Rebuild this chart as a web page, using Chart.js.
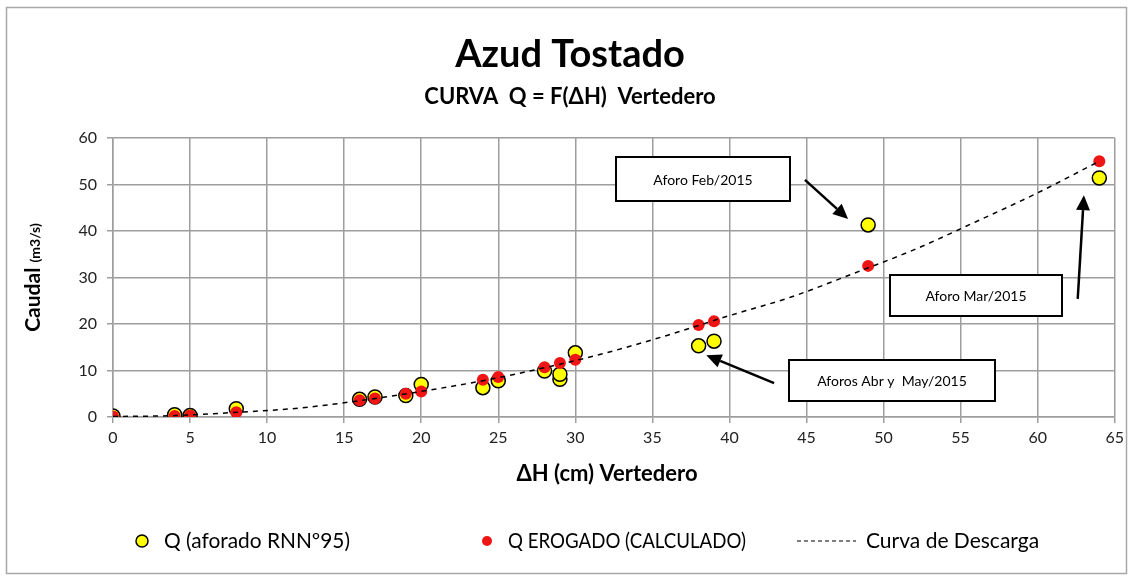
<!DOCTYPE html>
<html>
<head>
<meta charset="utf-8">
<script src="https://cdn.jsdelivr.net/npm/chart.js@4/dist/chart.umd.min.js"></script>
<style>
  html, body { margin: 0; padding: 0; background: #fff; }
  canvas { display: block; }
</style>
</head>
<body>
<canvas id="curva" width="1129" height="576"></canvas>
<script>
// ΔH (cm) and Q (m3/s) for the gauged flows
const aforoH = [0, 4, 5, 8, 16, 17, 19, 20, 24, 25, 28, 29, 29, 30, 38, 39, 49, 64];
const aforoQ = [0.2, 0.5, 0.3, 1.8, 3.8, 4.3, 4.6, 7.0, 6.3, 7.8, 9.9, 8.1, 9.2, 13.8, 15.3, 16.3, 41.3, 51.4];

// calculated discharge
const erogH = [0, 4, 5, 8, 16, 17, 19, 20, 24, 25, 28, 29, 30, 38, 39, 49, 64];
const erogQ = [0.1, 0.2, 0.3, 1.0, 3.6, 4.0, 5.0, 5.5, 8.0, 8.6, 10.7, 11.6, 12.3, 19.8, 20.6, 32.5, 55.0];

// discharge curve
const curvaH = [0, 4, 8, 12, 16, 20, 24, 28, 32, 36, 40, 44, 48, 52, 56, 60, 64];
const curvaQ = [0.1, 0.3, 1.0, 1.9, 3.5, 5.5, 7.8, 10.6, 13.8, 17.6, 21.8, 25.8, 30.8, 36.0, 42.0, 48.2, 55.0];

const xTicks = [0, 5, 10, 15, 20, 25, 30, 35, 40, 45, 50, 55, 60, 65];
const yTicks = [0, 10, 20, 30, 40, 50, 60];

const seriesNames = ['Q (aforado RNNº95)', 'Q EROGADO (CALCULADO)', 'Curva de Descarga'];

// callout boxes [x1, y1, x2, y2] and arrows [fromX, fromY, toX, toY] in axis units
const notas = [
  { text: 'Aforo Feb/2015', box: [32.65, 55.9, 43.9, 46.5], arrow: [44.9, 51.0, 47.7, 42.6] },
  { text: 'Aforo Mar/2015', box: [50.45, 30.5, 61.6, 21.7], arrow: [62.6, 25.4, 63.0, 47.7] },
  { text: 'Aforos Abr y  May/2015', box: [43.85, 12.3, 57.2, 3.4], arrow: [42.9, 7.3, 38.5, 13.3] }
];

const FONT = 'Lato, "Open Sans", sans-serif';
const GRID = '#9e9e9e';

const pts = (xs, ys) => xs.map((x, i) => ({ x: x, y: ys[i] }));

function arrow(ctx, x1, y1, x2, y2) {
  const ang = Math.atan2(y2 - y1, x2 - x1);
  const len = 15, half = 7;
  const bx = x2 - len * Math.cos(ang), by = y2 - len * Math.sin(ang);
  ctx.beginPath();
  ctx.moveTo(x1, y1);
  ctx.lineTo(bx, by);
  ctx.stroke();
  ctx.beginPath();
  ctx.moveTo(x2, y2);
  ctx.lineTo(bx + half * Math.sin(ang), by - half * Math.cos(ang));
  ctx.lineTo(bx - half * Math.sin(ang), by + half * Math.cos(ang));
  ctx.closePath();
  ctx.fill();
}

const decor = {
  id: 'decor',
  beforeDraw(chart) {
    const ctx = chart.ctx;
    ctx.save();
    ctx.fillStyle = '#fff';
    ctx.fillRect(0, 0, chart.width, chart.height);
    ctx.strokeStyle = '#a8a8a8';
    ctx.lineWidth = 1.5;
    ctx.strokeRect(6.5, 7.5, 1120, 566);
    ctx.restore();
  },
  afterDatasetsDraw(chart) {
    const ctx = chart.ctx;
    const xs = chart.scales.x, ys = chart.scales.y;
    ctx.save();
    notas.forEach(n => {
      const [a, b, c, d] = n.box;
      const l = Math.round(xs.getPixelForValue(a)), t = Math.round(ys.getPixelForValue(b));
      const r = Math.round(xs.getPixelForValue(c)), btm = Math.round(ys.getPixelForValue(d));
      ctx.fillStyle = '#fff';
      ctx.fillRect(l, t, r - l, btm - t);
      ctx.strokeStyle = '#000';
      ctx.lineWidth = 2;
      ctx.strokeRect(l, t, r - l, btm - t);
      ctx.fillStyle = '#000';
      ctx.font = '14px ' + FONT;
      ctx.textAlign = 'center';
      ctx.textBaseline = 'middle';
      ctx.fillText(n.text, (l + r) / 2, (t + btm) / 2 + 1);

      const [fx, fy, tx, ty] = n.arrow;
      ctx.lineWidth = 2.5;
      arrow(ctx, xs.getPixelForValue(fx), ys.getPixelForValue(fy),
            xs.getPixelForValue(tx), ys.getPixelForValue(ty));
    });
    ctx.restore();
  },
  afterDraw(chart) {
    const ctx = chart.ctx;
    const area = chart.chartArea;
    ctx.save();
    ctx.fillStyle = '#000';
    ctx.textAlign = 'center';
    ctx.textBaseline = 'alphabetic';

    // titles
    ctx.font = 'bold 38px ' + FONT;
    ctx.fillText('Azud Tostado', 570, 67);
    ctx.font = 'bold 22px ' + FONT;
    ctx.fillText('CURVA  Q = F(\u0394H)  Vertedero', 570, 104);

    // x axis title
    ctx.font = 'bold 22px ' + FONT;
    ctx.fillText('\u0394H (cm) Vertedero', 607, 481);

    // y axis title, mixed sizes
    ctx.save();
    ctx.translate(40, (area.top + area.bottom) / 2);
    ctx.rotate(-Math.PI / 2);
    ctx.textAlign = 'left';
    ctx.font = 'bold 21px ' + FONT;
    const w1 = ctx.measureText('Caudal ').width;
    ctx.font = 'bold 14px ' + FONT;
    const w2 = ctx.measureText('(m3/s)').width;
    const sx = -(w1 + w2) / 2;
    ctx.font = 'bold 21px ' + FONT;
    ctx.fillText('Caudal ', sx, 0);
    ctx.font = 'bold 14px ' + FONT;
    ctx.fillText('(m3/s)', sx + w1, 0);
    ctx.restore();

    // legend
    const ly = 541;
    ctx.font = '21px ' + FONT;
    ctx.textAlign = 'left';
    ctx.textBaseline = 'middle';

    ctx.beginPath();
    ctx.arc(142, ly, 6, 0, Math.PI * 2);
    ctx.fillStyle = '#ffff00';
    ctx.fill();
    ctx.lineWidth = 1.5;
    ctx.strokeStyle = '#000';
    ctx.stroke();
    ctx.fillStyle = '#000';
    ctx.fillText(seriesNames[0], 164, ly, 186);

    ctx.beginPath();
    ctx.arc(487, ly, 5, 0, Math.PI * 2);
    ctx.fillStyle = '#f01515';
    ctx.fill();
    ctx.fillStyle = '#000';
    ctx.fillText(seriesNames[1], 508, ly, 238);

    ctx.beginPath();
    ctx.setLineDash([4, 3]);
    ctx.lineWidth = 1.2;
    ctx.moveTo(797, ly);
    ctx.lineTo(856, ly);
    ctx.stroke();
    ctx.setLineDash([]);
    ctx.fillText(seriesNames[2], 866, ly, 176);

    ctx.restore();
  }
};

// order: the dashed curve sits on top, the calculated points over the gauged ones
new Chart(document.getElementById('curva'), {
  type: 'scatter',
  data: {
    datasets: [
      {
        label: seriesNames[0],
        data: pts(aforoH, aforoQ),
        backgroundColor: '#ffff00',
        borderColor: '#000',
        borderWidth: 1.5,
        pointRadius: 7,
        order: 2
      },
      {
        label: seriesNames[1],
        data: pts(erogH, erogQ),
        backgroundColor: '#f01515',
        borderColor: '#f01515',
        borderWidth: 0,
        pointRadius: 6,
        order: 1
      },
      {
        label: seriesNames[2],
        type: 'line',
        data: pts(curvaH, curvaQ),
        borderColor: '#000',
        borderWidth: 1.5,
        borderDash: [5, 5],
        pointRadius: 0,
        cubicInterpolationMode: 'monotone',
        fill: false,
        order: 0
      }
    ]
  },
  options: {
    responsive: false,
    animation: false,
    events: [],
    layout: { padding: { top: 138, right: 12, left: 0, bottom: 0 } },
    plugins: {
      legend: { display: false },
      title: { display: false },
      tooltip: { enabled: false }
    },
    scales: {
      x: {
        type: 'linear',
        min: 0,
        max: 65,
        afterFit: s => { s.height = 159; },
        afterBuildTicks: s => { s.ticks = xTicks.map(v => ({ value: v })); },
        grid: { color: GRID, lineWidth: 1.5, tickLength: 6 },
        border: { color: GRID, width: 1.5 },
        ticks: { color: '#222', padding: 5, font: { family: FONT, size: 16 }, maxRotation: 0 }
      },
      y: {
        min: 0,
        max: 60,
        afterFit: s => { s.width = 113; },
        afterBuildTicks: s => { s.ticks = yTicks.map(v => ({ value: v })); },
        grid: { color: GRID, lineWidth: 1.5, tickLength: 6 },
        border: { color: GRID, width: 1.5 },
        ticks: { color: '#222', padding: 10, font: { family: FONT, size: 16 } }
      }
    }
  },
  plugins: [decor]
});
</script>
</body>
</html>
